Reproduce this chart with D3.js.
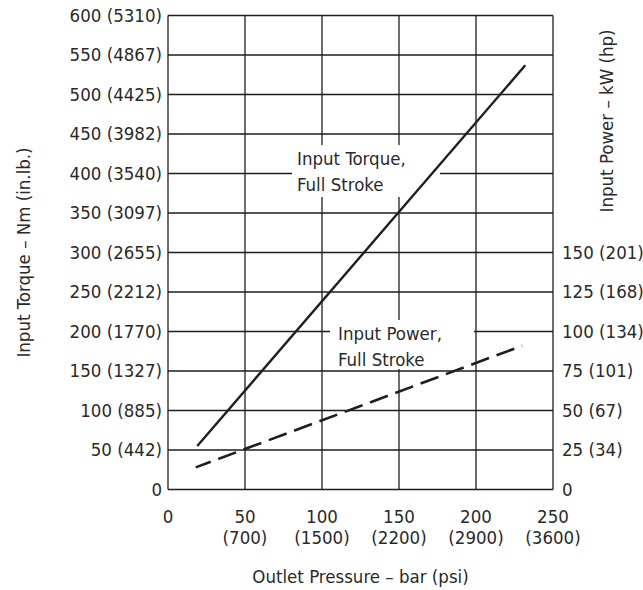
<!DOCTYPE html>
<html>
<head>
<meta charset="utf-8">
<script src="https://cdn.jsdelivr.net/npm/d3@7"></script>
<style>
  html, body { margin: 0; padding: 0; background: #fff; }
  svg { display: block; }
  text { font-family: "Liberation Sans Narrow", "DejaVu Sans Condensed", "Roboto", sans-serif; font-stretch: condensed; fill: #2a2a2a; }
</style>
</head>
<body>
<svg id="chart" width="643" height="590"></svg>
<script>
// ---- data ----
const pressureTicks = [0, 50, 100, 150, 200, 250];            // bar
const psiLabels     = ["", "700", "1500", "2200", "2900", "3600"];
const torqueTicks   = [0, 50, 100, 150, 200, 250, 300, 350, 400, 450, 500, 550, 600]; // Nm
const inlbLabels    = ["", "442", "885", "1327", "1770", "2212", "2655", "3097", "3540", "3982", "4425", "4867", "5310"];
const powerTicks    = [0, 25, 50, 75, 100, 125, 150];          // kW
const hpLabels      = ["", "34", "67", "101", "134", "168", "201"];

const torquePressure = [19, 232];    // bar
const torqueValues   = [55, 537];    // Nm
const powerPressure  = [18, 230];    // bar
const powerValues    = [14, 91];     // kW

// ---- layout ----
const svg = d3.select("#chart");
const L = 168, R = 553, T = 15.5, B = 489.5;
const x = d3.scaleLinear().domain([0, 250]).range([L, R]);
const y = d3.scaleLinear().domain([0, 600]).range([B, T]);
const yP = d3.scaleLinear().domain([0, 300]).range([B, T]); // kW (right axis)
const ink = "#1e1e1e";

// grid
const grid = svg.append("g");
grid.selectAll("line.v").data(pressureTicks).join("line")
  .attr("x1", d => x(d)).attr("x2", d => x(d)).attr("y1", T).attr("y2", B)
  .attr("stroke", ink).attr("stroke-width", 1.3);
grid.selectAll("line.h").data(torqueTicks).join("line")
  .attr("x1", L).attr("x2", R).attr("y1", d => y(d)).attr("y2", d => y(d))
  .attr("stroke", ink).attr("stroke-width", 1.3);

// left ticks
svg.append("g").selectAll("text").data(torqueTicks).join("text")
  .attr("x", L - 6).attr("y", d => y(d)).attr("dy", "0.35em")
  .attr("text-anchor", "end").attr("font-size", 18.5)
  .text((d, i) => inlbLabels[i] ? `${d} (${inlbLabels[i]})` : `${d}`);

// right ticks
svg.append("g").selectAll("text").data(powerTicks).join("text")
  .attr("x", R + 9).attr("y", d => yP(d)).attr("dy", "0.35em")
  .attr("text-anchor", "start").attr("font-size", 18.5)
  .text((d, i) => hpLabels[i] ? `${d} (${hpLabels[i]})` : `${d}`);

// bottom ticks
const bt = svg.append("g").selectAll("g").data(pressureTicks).join("g");
bt.append("text").attr("x", d => x(d)).attr("y", 523).attr("text-anchor", "middle")
  .attr("font-size", 18.5).text(d => d);
bt.append("text").attr("x", d => x(d)).attr("y", 544).attr("text-anchor", "middle")
  .attr("font-size", 18.5).text((d, i) => psiLabels[i] ? `(${psiLabels[i]})` : "");

// axis titles
svg.append("text").attr("x", (L + R) / 2).attr("y", 583).attr("text-anchor", "middle")
  .attr("font-size", 18.5).text("Outlet Pressure – bar (psi)");
svg.append("text").attr("transform", `translate(30,${(T + B) / 2}) rotate(-90)`)
  .attr("text-anchor", "middle").attr("font-size", 18.5).text("Input Torque – Nm (in.lb.)");
svg.append("text").attr("transform", `translate(613,121) rotate(-90)`)
  .attr("text-anchor", "middle").attr("font-size", 18.5).text("Input Power – kW (hp)");

// label backgrounds
svg.append("rect").attr("x", 292).attr("y", 145).attr("width", 148).attr("height", 52).attr("fill", "#fff");
svg.append("rect").attr("x", 330).attr("y", 320).attr("width", 144).attr("height", 49).attr("fill", "#fff");

// series
const torqueData = torquePressure.map((p, i) => [p, torqueValues[i]]);
const powerData  = powerPressure.map((p, i) => [p, powerValues[i]]);
svg.append("path").datum(torqueData)
  .attr("d", d3.line().x(d => x(d[0])).y(d => y(d[1])))
  .attr("fill", "none").attr("stroke", ink).attr("stroke-width", 2.4);
svg.append("path").datum(powerData)
  .attr("d", d3.line().x(d => x(d[0])).y(d => yP(d[1])))
  .attr("fill", "none").attr("stroke", ink).attr("stroke-width", 2.6)
  .attr("stroke-dasharray", "19,8").attr("stroke-dashoffset", 3);

// annotations
const t1 = svg.append("text").attr("font-size", 18.5);
t1.append("tspan").attr("x", 297).attr("y", 165).text("Input Torque,");
t1.append("tspan").attr("x", 297).attr("y", 191).text("Full Stroke");
const t2 = svg.append("text").attr("font-size", 18.5);
t2.append("tspan").attr("x", 338).attr("y", 340).text("Input Power,");
t2.append("tspan").attr("x", 338).attr("y", 366).text("Full Stroke");
</script>
</body>
</html>
